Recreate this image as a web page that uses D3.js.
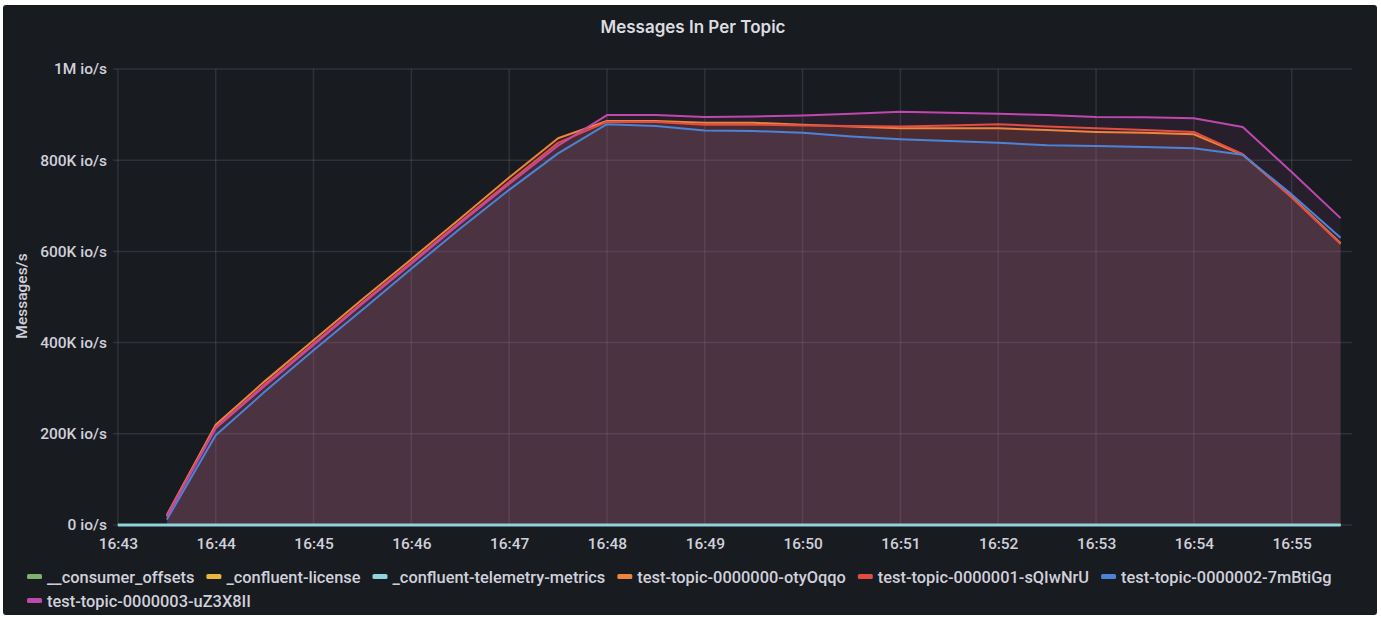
<!DOCTYPE html>
<html>
<head>
<meta charset="utf-8">
<script src="https://cdn.jsdelivr.net/npm/d3@7/dist/d3.min.js"></script>
<style>
html,body{margin:0;padding:0;background:#ffffff;}
svg{display:block;font-family:Roboto,"Noto Sans",sans-serif;}
</style>
</head>
<body>
<svg id="chart" width="1381" height="620"></svg>
<script>
// ---- data ----
const timeLabels = ["16:43:00","16:43:30","16:44:00","16:44:30","16:45:00","16:45:30","16:46:00","16:46:30","16:47:00","16:47:30","16:48:00","16:48:30","16:49:00","16:49:30","16:50:00","16:50:30","16:51:00","16:51:30","16:52:00","16:52:30","16:53:00","16:53:30","16:54:00","16:54:30","16:55:00","16:55:30"];
const seriesNames = ["__consumer_offsets","_confluent-license","_confluent-telemetry-metrics","test-topic-0000000-otyOqqo","test-topic-0000001-sQIwNrU","test-topic-0000002-7mBtiGg","test-topic-0000003-uZ3X8II"];
const seriesColors = ["#7EB26D","#EAB839","#8fd3dc","#EF843C","#E24D42","#4a84d8","#BF48AE"];
const consumerOffsets = [0,0,0,0,0,0,0,0,0,0,0,0,0,0,0,0,0,0,0,0,0,0,0,0,0,0];
const confluentLicense = [0,0,0,0,0,0,0,0,0,0,0,0,0,0,0,0,0,0,0,0,0,0,0,0,0,0];
const telemetryMetrics = [0,0,0,0,0,0,0,0,0,0,0,0,0,0,0,0,0,0,0,0,0,0,0,0,0,0];
const topic0 = [null,22000,220000,315000,405000,495000,583000,672000,762000,848000,886000,886000,882000,882000,878000,874000,870000,870000,870000,866000,862000,860000,857000,812000,720000,618000];
const topic1 = [null,20000,215000,308000,398000,488000,576000,665000,752000,838000,884000,884000,878000,878000,876000,875000,874000,876000,879000,874000,870000,866000,862000,813000,718000,616000];
const topic2 = [null,12000,197000,292000,383000,472000,562000,650000,735000,815000,879000,875000,865000,864000,860000,852000,846000,842000,838000,833000,831000,829000,826000,812000,725000,630000];
const topic3 = [null,18000,212000,305000,395000,485000,573000,662000,748000,832000,899000,899000,895000,896000,898000,902000,906000,904000,902000,899000,895000,894000,892000,873000,774000,673000];
const yTickValues = [0,200000,400000,600000,800000,1000000];
const yTickLabels = ["0 io/s","200K io/s","400K io/s","600K io/s","800K io/s","1M io/s"];
const xTickLabels = ["16:43","16:44","16:45","16:46","16:47","16:48","16:49","16:50","16:51","16:52","16:53","16:54","16:55"];

const seriesValues = [consumerOffsets, confluentLicense, telemetryMetrics, topic0, topic1, topic2, topic3];

(function(){
const parse = d3.timeParse("%Y-%m-%d %H:%M:%S");
const times = timeLabels.map(t => parse("2022-01-01 " + t));
const xTicks = xTickLabels.map(t => parse("2022-01-01 " + t + ":00"));

const svg = d3.select("#chart");
const pL = 113, pR = 1352, pT = 69, pB = 525;
const txt = "#d0d0dc";

svg.append("rect").attr("x",3).attr("y",5).attr("width",1374).attr("height",610).attr("rx",3).attr("fill","#181b1f");

const x = d3.scaleTime()
  .domain([parse("2022-01-01 16:42:57"), parse("2022-01-01 16:55:37")])
  .range([pL, pR]);
const y = d3.scaleLinear().domain([0,1000000]).range([pB, pT]);

// grid
const g = svg.append("g");
g.selectAll("line.hg").data(yTickValues).join("line")
  .attr("x1", pL).attr("x2", pR)
  .attr("y1", d => y(d)).attr("y2", d => y(d))
  .attr("stroke","rgba(204,204,220,0.13)").attr("stroke-width",1.5);
g.selectAll("line.vg").data(xTicks).join("line")
  .attr("x1", d => x(d)).attr("x2", d => x(d))
  .attr("y1", pT).attr("y2", pB)
  .attr("stroke","rgba(204,204,220,0.13)").attr("stroke-width",1.5);

// axes
const yAxis = d3.axisLeft(y).tickValues(yTickValues).tickFormat((d,i)=>yTickLabels[i]).tickSize(0).tickPadding(6);
const ya = svg.append("g").attr("transform",`translate(${pL},0)`).call(yAxis);
const xAxis = d3.axisBottom(x).tickValues(xTicks).tickFormat((d,i)=>xTickLabels[i]).tickSize(0).tickPadding(13);
const xa = svg.append("g").attr("transform",`translate(0,${pB})`).call(xAxis);
[ya,xa].forEach(a=>{
  a.select(".domain").remove();
  a.selectAll("text").attr("fill",txt).attr("font-size","15.5px").attr("font-weight",500).attr("font-family","Roboto,sans-serif");
});

// y axis label
svg.append("text").attr("transform","translate(27,296) rotate(-90)")
  .attr("text-anchor","middle").attr("fill",txt).attr("font-size","15.5px").attr("font-weight",500).text("Messages/s");

// title
svg.append("text").attr("x",693).attr("y",33).attr("text-anchor","middle")
  .attr("font-family","Inter,sans-serif")
  .attr("fill","#dcdde0").attr("font-size","17px").attr("font-weight",600).text("Messages In Per Topic");

// series
const data = seriesValues.map((vals,i)=>({name:seriesNames[i],color:seriesColors[i],
  pts: vals.map((v,j)=>({t:times[j],v:v}))}));

const area = d3.area().defined(d=>d.v!==null).x(d=>x(d.t)).y0(y(0)).y1(d=>y(d.v));
const line = d3.line().defined(d=>d.v!==null).x(d=>x(d.t)).y(d=>y(d.v));

const plot = svg.append("g");
data.forEach(s=>{
  plot.append("path").datum(s.pts).attr("d",area).attr("fill",s.color).attr("fill-opacity",0.1);
});
data.forEach((s,i)=>{
  plot.append("path").datum(s.pts).attr("d",line).attr("fill","none")
    .attr("stroke",s.color).attr("stroke-width", i===2 ? 3 : 2).attr("stroke-linejoin","round");
});

// legend
const legend = svg.append("g");
let lx = 27, ly = 577;
data.forEach((s,i)=>{
  const item = legend.append("g");
  item.append("rect").attr("x",0).attr("y",-3).attr("width",15).attr("height",5).attr("rx",1.5).attr("fill",s.color);
  const tx = item.append("text").attr("x",20).attr("y",0).attr("dy","0.35em").attr("fill",txt)
    .attr("font-size","16.4px").attr("font-weight",500).text(s.name);
  const w = 20 + tx.node().getComputedTextLength();
  if (lx + w > 1345) { lx = 27; ly += 24; }
  item.attr("transform",`translate(${lx},${ly})`);
  lx += w + 12;
});
})();
</script>
</body>
</html>
